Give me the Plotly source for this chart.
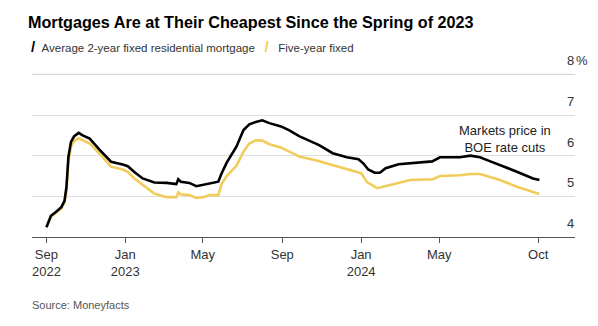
import plotly.graph_objects as go

# ---- data ----
two_year_dates = [
    "2022-09-01", "2022-09-08", "2022-09-16", "2022-09-24", "2022-09-29", "2022-10-02",
    "2022-10-05", "2022-10-09", "2022-10-14", "2022-10-21", "2022-10-27", "2022-11-07",
    "2022-11-22", "2022-12-10", "2022-12-28", "2023-01-05", "2023-01-15", "2023-01-28",
    "2023-02-15", "2023-03-06", "2023-03-21", "2023-03-24", "2023-03-28", "2023-04-10",
    "2023-04-21", "2023-05-01", "2023-05-12", "2023-05-25", "2023-05-30", "2023-06-07",
    "2023-06-22", "2023-07-03", "2023-07-12", "2023-07-22", "2023-08-01", "2023-08-12",
    "2023-08-30", "2023-09-12", "2023-09-27", "2023-10-15", "2023-10-28", "2023-11-18",
    "2023-12-10", "2023-12-28", "2024-01-05", "2024-01-12", "2024-01-22", "2024-01-30",
    "2024-02-08", "2024-02-28", "2024-03-25", "2024-04-20", "2024-05-02", "2024-06-02",
    "2024-06-18", "2024-07-03", "2024-07-19", "2024-08-03", "2024-08-30", "2024-09-23",
    "2024-10-03",
]
two_year_rate = [
    4.24, 4.52, 4.62, 4.73, 4.89, 5.23,
    5.97, 6.34, 6.48, 6.56, 6.50, 6.42,
    6.15, 5.85, 5.78, 5.74, 5.60, 5.44,
    5.34, 5.33, 5.30, 5.42, 5.36, 5.33,
    5.25, 5.28, 5.33, 5.36, 5.56, 5.83,
    6.22, 6.63, 6.77, 6.83, 6.87, 6.80,
    6.72, 6.62, 6.48, 6.36, 6.26, 6.06,
    5.96, 5.91, 5.80, 5.66, 5.58, 5.58,
    5.69, 5.79, 5.83, 5.86, 5.96, 5.96,
    6.00, 5.96, 5.86, 5.77, 5.60, 5.44,
    5.40,
]

five_year_dates = [
    "2022-09-01", "2022-09-08", "2022-09-16", "2022-09-24", "2022-09-29", "2022-10-02",
    "2022-10-05", "2022-10-09", "2022-10-14", "2022-10-21", "2022-10-27", "2022-11-07",
    "2022-11-22", "2022-12-10", "2022-12-28", "2023-01-05", "2023-01-15", "2023-01-28",
    "2023-02-15", "2023-03-06", "2023-03-21", "2023-03-24", "2023-03-28", "2023-04-10",
    "2023-04-21", "2023-05-01", "2023-05-12", "2023-05-25", "2023-05-30", "2023-06-07",
    "2023-06-22", "2023-07-03", "2023-07-12", "2023-07-22", "2023-08-01", "2023-08-12",
    "2023-08-30", "2023-09-12", "2023-09-27", "2023-10-24", "2023-11-18", "2023-12-15",
    "2024-01-01", "2024-01-10", "2024-01-26", "2024-02-15", "2024-03-17", "2024-04-21",
    "2024-05-02", "2024-06-02", "2024-06-18", "2024-07-03", "2024-07-19", "2024-08-03",
    "2024-08-30", "2024-09-23", "2024-10-03",
]
five_year_rate = [
    4.24, 4.50, 4.60, 4.70, 4.85, 5.15,
    5.85, 6.22, 6.36, 6.43, 6.38, 6.30,
    6.05, 5.73, 5.66, 5.60, 5.44, 5.28,
    5.07, 4.98, 4.98, 5.10, 5.05, 5.03,
    4.96, 4.98, 5.03, 5.03, 5.30, 5.50,
    5.75, 6.10, 6.30, 6.38, 6.37, 6.28,
    6.20, 6.10, 5.98, 5.88, 5.77, 5.64,
    5.57, 5.35, 5.20, 5.28, 5.40, 5.42,
    5.50, 5.52, 5.55, 5.55, 5.47, 5.40,
    5.23, 5.11, 5.06,
]

x_tick_vals = ["2022-09-01", "2023-01-01", "2023-05-01", "2023-09-01",
               "2024-01-01", "2024-05-01", "2024-10-01"]
x_tick_text = ["Sep<br>2022", "Jan<br>2023", "May", "Sep", "Jan<br>2024", "May", "Oct"]
y_tick_vals = [4, 5, 6, 7, 8]
y_tick_text = ["4", "5", "6", "7", "8"]
y_unit = "%"

title_text = "Mortgages Are at Their Cheapest Since the Spring of 2023"
series_names = ["Average 2-year fixed residential mortgage", "Five-year fixed"]
note_text = "Markets price in<br>BOE rate cuts"
source_text = "Source: Moneyfacts"

BLACK = "#000000"
YELLOW = "#f2cc5a"
GRID = "#dedede"
TXT = "#333333"
FONT = "Liberation Sans, Arial, sans-serif"

fig = go.Figure()
fig.add_trace(go.Scatter(x=five_year_dates, y=five_year_rate, mode="lines",
                         name=series_names[1],
                         line=dict(color=YELLOW, width=2.6)))
fig.add_trace(go.Scatter(x=two_year_dates, y=two_year_rate, mode="lines",
                         name=series_names[0],
                         line=dict(color=BLACK, width=2.6)))

fig.update_layout(
    width=598, height=326,
    margin=dict(l=32, r=23, t=54, b=89),
    paper_bgcolor="white", plot_bgcolor="white",
    showlegend=False,
    font=dict(family=FONT, color=TXT, size=13),
    xaxis=dict(
        type="date",
        range=["2022-08-09 16:00", "2024-11-27"],
        tickvals=x_tick_vals, ticktext=x_tick_text,
        showgrid=False, zeroline=False,
        showline=True, linecolor="#555555", linewidth=1,
        ticks="outside", ticklen=5, tickcolor="#555555",
        tickfont=dict(size=13, color=TXT),
    ),
    yaxis=dict(
        range=[4, 8.5], side="right",
        tickvals=y_tick_vals, showticklabels=False,
        showgrid=True, gridcolor=GRID, gridwidth=1,
        zeroline=False, showline=False, ticks="",
    ),
)

# top gridline drawn explicitly as well
fig.add_shape(type="line", xref="paper", x0=0, x1=1, yref="y",
              y0=y_tick_vals[-1], y1=y_tick_vals[-1],
              line=dict(color="#d6d6d6", width=1), layer="above")

annotations = [
    dict(text="<b>" + title_text + "</b>", xref="paper", yref="paper",
         x=-4 / 543, xshift=-2, y=1, yshift=54 - 22, xanchor="left", yanchor="middle",
         showarrow=False, font=dict(size=16.2, color="#000000", family=FONT)),
    dict(text='<span style="color:#000000;font-size:15px"><b>/</b></span>&nbsp;&nbsp;' + series_names[0]
              + '&nbsp;&nbsp;&nbsp;<span style="color:' + YELLOW + ';font-size:15px"><b>/</b></span>&nbsp;&nbsp;&nbsp;'
              + series_names[1],
         xref="paper", yref="paper", x=-4 / 543, xshift=1, y=1, yshift=54 - 46,
         xanchor="left", yanchor="middle", showarrow=False,
         font=dict(size=11.5, color=TXT, family=FONT)),
    dict(text=note_text, x="2024-08-11", y=6.40, xref="x", yref="y",
         xanchor="center", yanchor="middle", showarrow=False,
         font=dict(size=13, color="#222222", family=FONT)),
    dict(text=y_unit, xref="paper", x=1, xshift=-1, y=y_tick_vals[-1], yref="y", yshift=4,
         xanchor="left", yanchor="bottom",
         showarrow=False, font=dict(size=13, color=TXT, family=FONT)),
    dict(text=source_text, xref="paper", yref="paper", x=-2 / 543, y=0, yshift=-68,
         xanchor="left", yanchor="middle", showarrow=False,
         font=dict(size=11, color="#555555", family=FONT)),
]
for v, t in zip(y_tick_vals, y_tick_text):
    annotations.append(dict(text=t, xref="paper", x=1, xshift=1, y=v, yref="y", yshift=4,
                            xanchor="right", yanchor="bottom", showarrow=False,
                            font=dict(size=13, color=TXT, family=FONT)))
fig.update_layout(annotations=annotations)

fig.write_html("out.html")
